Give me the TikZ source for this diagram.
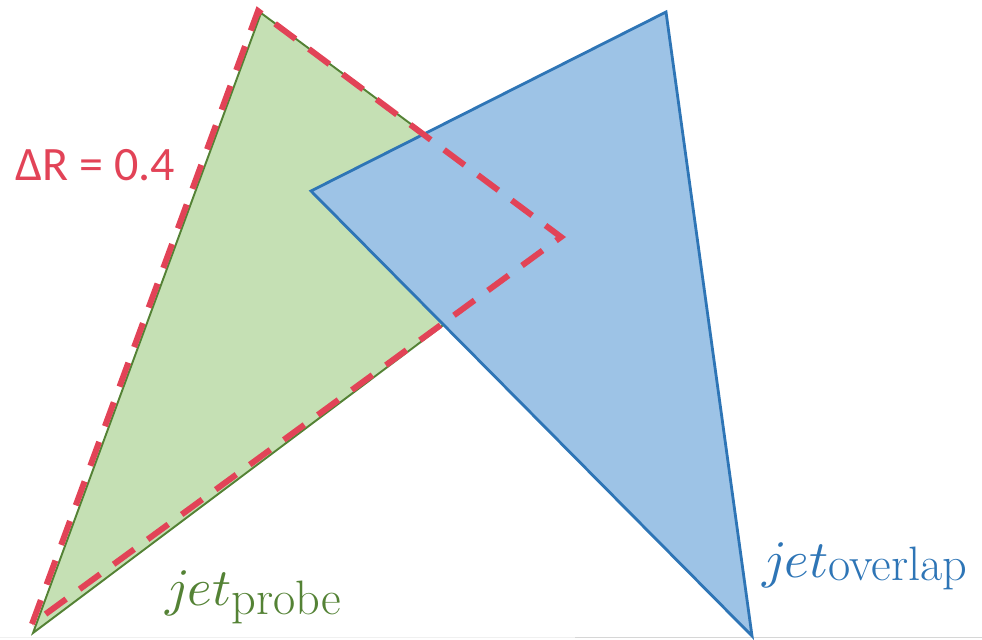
\documentclass[tikz,border=0pt]{standalone}
\usepackage{amsmath}
\usepackage{fontspec}
\usepackage{unicode-math}
\newfontfamily\labelfont{Carlito}
\definecolor{probefill}{HTML}{C5E0B4}
\definecolor{probeline}{HTML}{548235}
\definecolor{overlapfill}{HTML}{9DC3E6}
\definecolor{overlapline}{HTML}{2E75B6}
\definecolor{conered}{RGB}{226,67,87}
\newcommand{\jetsub}[2]{$jet$\raisebox{#1}{\fontsize{27.5}{30}\selectfont #2}}

\begin{document}
\begin{tikzpicture}[
  x=0.02cm, y=-0.02cm,
  probe/.style={fill=probefill,draw=probeline,line width=1.1pt,line join=miter},
  overlap/.style={fill=overlapfill,draw=overlapline,line width=1.6pt,line join=miter},
  cone/.style={draw=conered,line width=3.4pt,dash pattern=on 14.5pt off 9.5pt},
  jetlabel/.style={inner sep=0pt,anchor=base west,font=\fontsize{30}{34}\selectfont}
]
\useasboundingbox (0,0) rectangle (982,639);
% faint frame line at the bottom
\draw[black!6,line width=0.6pt] (0,637.5) -- (575,637.5);
\draw[black!16,line width=0.6pt] (575,637.5) -- (982,637.5);
% probe jet
\coordinate (P1) at (261,13);
\coordinate (P2) at (562,236);
\coordinate (P3) at (33,633);
\draw[probe] (P1) -- (P2) -- (P3) -- cycle;
% overlapping jet
\coordinate (O1) at (311,191);
\coordinate (O2) at (666,12);
\coordinate (O3) at (752,636);
\draw[overlap] (O1) -- (O2) -- (O3) -- cycle;
% cone of radius 0.4
\coordinate (R1) at (258,11);
\coordinate (R2) at (561,237);
\coordinate (R3) at (32,624);
\draw[cone] (R3) -- (R1) -- (R2) -- cycle;
% labels
\node[inner sep=0pt,anchor=base west,text=conered,font=\labelfont\fontsize{27.3}{30}\selectfont] (dR) at (15,180) {ΔR = 0.4};
\node[jetlabel,text=probeline] (probe) at (165,605) {\jetsub{-5.5pt}{probe}};
\node[jetlabel,text=overlapline] (overlap) at (762,577) {\jetsub{-2pt}{overlap}};
\end{tikzpicture}
\end{document}
